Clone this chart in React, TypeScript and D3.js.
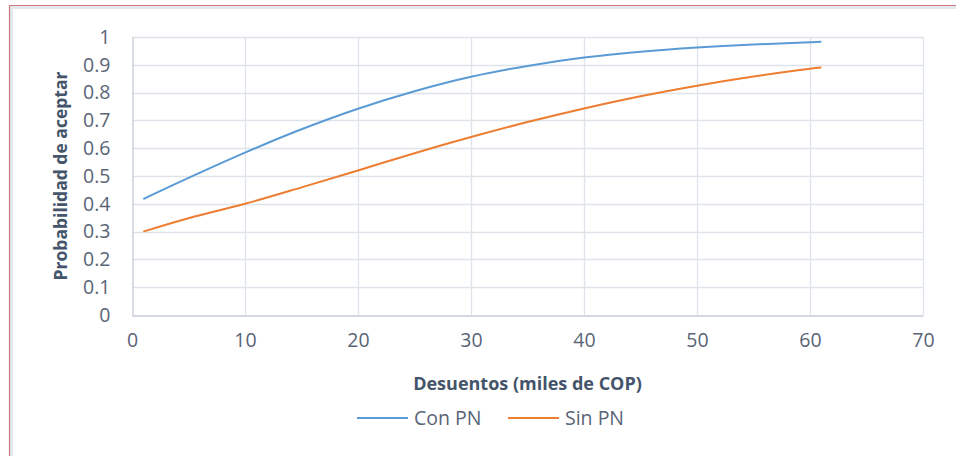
import React, { useEffect, useRef } from 'react';
import * as d3 from 'd3';

// Discount values (thousands of COP) and acceptance probabilities
const descuentos = [1, 5, 10, 15, 20, 25, 30, 35, 40, 45, 50, 55, 60, 61];
const conPN = [0.417, 0.493, 0.584, 0.668, 0.742, 0.805, 0.857, 0.896, 0.926, 0.947, 0.962, 0.973, 0.981, 0.983];
const sinPN = [0.3, 0.348, 0.4, 0.459, 0.52, 0.582, 0.64, 0.694, 0.743, 0.787, 0.825, 0.858, 0.886, 0.89];

const xTicks = [0, 10, 20, 30, 40, 50, 60, 70];
const yTicks = [0, 0.1, 0.2, 0.3, 0.4, 0.5, 0.6, 0.7, 0.8, 0.9, 1];

const series = [
  { name: 'Con PN', values: conPN, color: '#5B9BD5' },
  { name: 'Sin PN', values: sinPN, color: '#ED7D31' },
];

const App = () => {
  const chartRef = useRef<HTMLDivElement>(null);

  useEffect(() => {
    if (chartRef.current) {
      d3.select(chartRef.current).selectAll('*').remove();
    }

    const width = 956;
    const height = 456;
    const margin = { top: 37, right: 33, bottom: 141, left: 132 };
    const font = "'Open Sans', 'Noto Sans', sans-serif";

    const svg = d3
      .select(chartRef.current)
      .append('svg')
      .attr('width', width)
      .attr('height', height)
      .attr('viewBox', [0, 0, width, height])
      .style('display', 'block')
      .style('background', '#fff');

    // chart frame (only top and left edges show)
    svg
      .append('path')
      .attr('d', `M11.5,${height} V7.5 H${width}`)
      .attr('fill', 'none')
      .attr('stroke', '#e3e7ee')
      .attr('stroke-width', 3);
    svg
      .append('path')
      .attr('d', `M9.5,${height} V5.5 H${width}`)
      .attr('fill', 'none')
      .attr('stroke', '#c97a7a')
      .attr('stroke-width', 1.2);

    const x = d3
      .scaleLinear()
      .domain([0, 70])
      .range([margin.left, width - margin.right]);

    const y = d3
      .scaleLinear()
      .domain([0, 1])
      .range([height - margin.bottom, margin.top]);

    // Grid
    svg
      .append('g')
      .selectAll('line')
      .data(yTicks.slice(1))
      .join('line')
      .attr('x1', margin.left)
      .attr('x2', width - margin.right)
      .attr('y1', (d) => Math.round(y(d)) + 0.5)
      .attr('y2', (d) => Math.round(y(d)) + 0.5)
      .attr('stroke', '#dfe3ea')
      .attr('stroke-width', 1.3);

    svg
      .append('g')
      .selectAll('line')
      .data(xTicks.slice(1))
      .join('line')
      .attr('x1', (d) => Math.round(x(d)) + 0.5)
      .attr('x2', (d) => Math.round(x(d)) + 0.5)
      .attr('y1', margin.top)
      .attr('y2', height - margin.bottom)
      .attr('stroke', '#dfe3ea')
      .attr('stroke-width', 1.3);

    // Axes
    svg
      .append('g')
      .attr('transform', `translate(0,${Math.round(y(0)) + 0.5})`)
      .call(d3.axisBottom(x).tickValues(xTicks).tickSize(0).tickPadding(18).tickFormat(d3.format('d')))
      .call((g) => g.select('.domain').attr('stroke', '#c3cad6').attr('stroke-width', 1.3))
      .call((g) =>
        g
          .selectAll('text')
          .attr('fill', '#5a6577')
          .style('font-family', font)
          .style('font-size', '19.5px')
      );

    svg
      .append('g')
      .attr('transform', `translate(${Math.round(x(0)) + 0.5},0)`)
      .call(d3.axisLeft(y).tickValues(yTicks).tickSize(0).tickPadding(22).tickFormat((d) => String(d)))
      .call((g) => g.select('.domain').attr('stroke', '#c3cad6').attr('stroke-width', 1.3))
      .call((g) =>
        g
          .selectAll('text')
          .attr('fill', '#5a6577')
          .style('font-family', font)
          .style('font-size', '19.5px')
      );

    // Lines
    const line = d3
      .line<number>()
      .x((_, i) => x(descuentos[i]))
      .y((d) => y(d))
      .curve(d3.curveCatmullRom.alpha(0.5));

    series.forEach((s) => {
      svg
        .append('path')
        .datum(s.values)
        .attr('fill', 'none')
        .attr('stroke', s.color)
        .attr('stroke-width', 2)
        .attr('d', line);
    });

    // Axis titles
    svg
      .append('text')
      .attr('x', (x(0) + x(70)) / 2)
      .attr('y', 390)
      .attr('text-anchor', 'middle')
      .attr('fill', '#44546A')
      .style('font-family', font)
      .style('font-weight', 'bold')
      .style('font-size', '18px')
      .text('Desuentos (miles de COP)');

    svg
      .append('text')
      .attr('transform', `translate(67,${(y(0) + y(1)) / 2}) rotate(-90)`)
      .attr('text-anchor', 'middle')
      .attr('fill', '#44546A')
      .style('font-family', font)
      .style('font-weight', 'bold')
      .style('font-size', '17.5px')
      .text('Probabilidad de aceptar');

    // Legend
    const legendX = [357, 508];
    const legend = svg
      .append('g')
      .selectAll('g')
      .data(series)
      .join('g')
      .attr('transform', (_, i) => `translate(${legendX[i]},418)`);

    legend
      .append('line')
      .attr('x1', 0)
      .attr('x2', 51)
      .attr('stroke', (d) => d.color)
      .attr('stroke-width', 2);

    legend
      .append('text')
      .attr('x', 57)
      .attr('y', 7)
      .attr('fill', '#5a6577')
      .style('font-family', font)
      .style('font-size', '19.5px')
      .text((d) => d.name);
  }, []);

  return <div ref={chartRef} style={{ position: 'absolute', left: 0, top: 0 }}></div>;
};

export default App;
